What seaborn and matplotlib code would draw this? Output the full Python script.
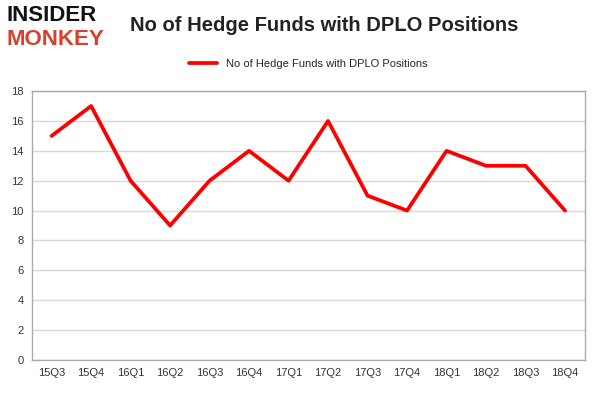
import seaborn as sns
import matplotlib.pyplot as plt
import pandas as pd

quarters = ["15Q3", "15Q4", "16Q1", "16Q2", "16Q3", "16Q4", "17Q1",
            "17Q2", "17Q3", "17Q4", "18Q1", "18Q2", "18Q3", "18Q4"]
funds = [15, 17, 12, 9, 12, 14, 12, 16, 11, 10, 14, 13, 13, 10]
yticks = [0, 2, 4, 6, 8, 10, 12, 14, 16, 18]

df = pd.DataFrame({"quarter": quarters, "funds": funds})

sns.set_style("white")
plt.rcParams['font.family'] = ['Liberation Sans', 'DejaVu Sans']

fig = plt.figure(figsize=(6.01, 3.96), dpi=100)
ax = fig.add_axes([0.053, 0.091, 0.92, 0.679])

sns.lineplot(data=df, x="quarter", y="funds", color="#ff0000", linewidth=2.7,
             label="No of Hedge Funds with DPLO Positions", ax=ax, sort=False)

ax.set_ylim(0, 18)
ax.set_yticks(yticks)
ax.set_xlim(-0.5, len(quarters) - 0.5)
ax.set_xlabel("")
ax.set_ylabel("")
ax.tick_params(labelsize=8, colors="#333333", length=0, pad=6)
ax.grid(axis="y", color="#d9d9d9", linewidth=1)
ax.set_axisbelow(True)
for s in ax.spines.values():
    s.set_color("#aaaaaa")
    s.set_linewidth(1)

ax.legend(loc="lower center", bbox_to_anchor=(0.5, 1.045), frameon=False,
          fontsize=8, handlelength=2.5)

fig.text(0.54, 0.935, "No of Hedge Funds with DPLO Positions", ha="center",
         va="center", fontsize=14.5, fontweight="bold", color="#222222")
fig.text(0.01, 0.96, "INSIDER", ha="left", va="center", fontsize=16,
         fontweight="heavy", color="#111111")
fig.text(0.01, 0.9, "MONKEY", ha="left", va="center", fontsize=16,
         fontweight="heavy", color="#d9402b")

fig.savefig("out.png", dpi=100)
